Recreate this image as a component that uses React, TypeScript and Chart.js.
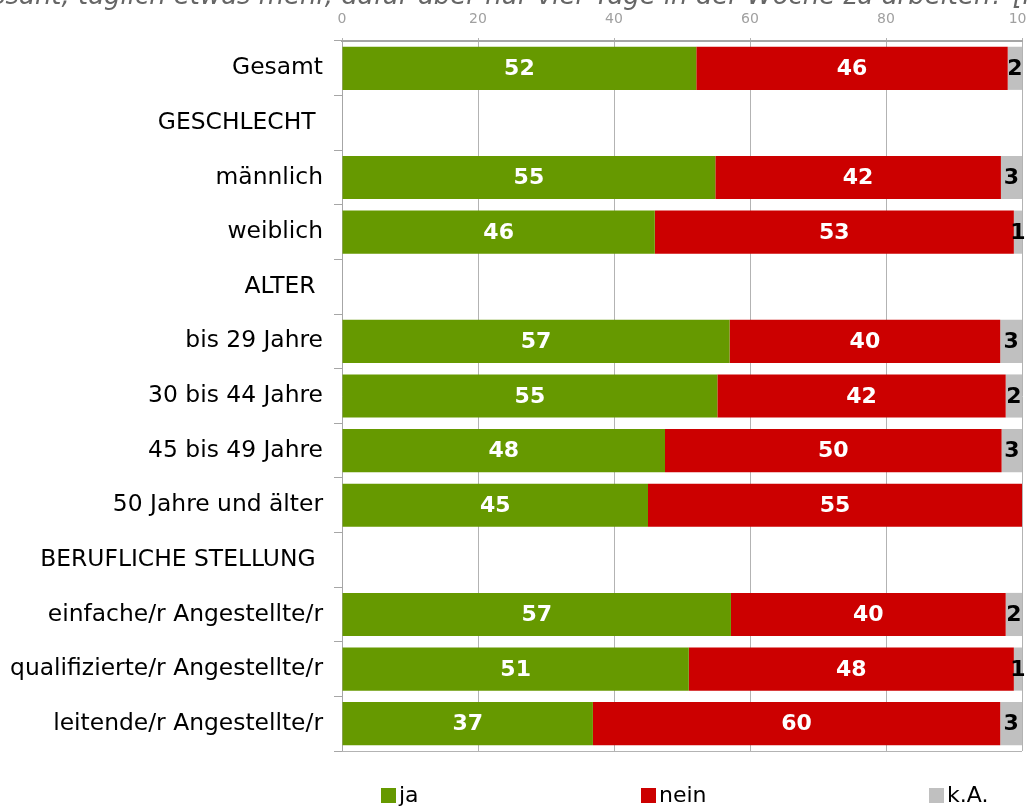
import React, { useEffect, useRef } from "react";
import { Chart, registerables } from "chart.js";

Chart.register(...registerables);

const categories = [
  "Gesamt",
  "GESCHLECHT ",
  "männlich",
  "weiblich",
  "ALTER ",
  "bis 29 Jahre",
  "30 bis 44 Jahre",
  "45 bis 49 Jahre",
  "50 Jahre und älter",
  "BERUFLICHE STELLUNG ",
  "einfache/r Angestellte/r",
  "qualifizierte/r Angestellte/r",
  "leitende/r Angestellte/r",
];

const jaValues = [52.1, null, 54.9, 46.0, null, 57.0, 55.2, 47.5, 45.0, null, 57.2, 51.0, 36.9];
const neinValues = [45.8, null, 42.0, 52.8, null, 39.8, 42.4, 49.5, 55.0, null, 40.4, 47.8, 59.9];
const kaValues = [2.1, null, 3.1, 1.2, null, 3.2, 2.4, 3.0, 0, null, 2.4, 1.2, 3.2];

const seriesLabels = ["ja", "nein", "k.A."];
const seriesColors = ["#669900", "#CC0000", "#C0C0C0"];
const labelColors = ["#FFFFFF", "#FFFFFF", "#000000"];

const xTicks = [0, 20, 40, 60, 80, 100];

const TITLE =
  "Ist es für Sie interessant, täglich etwas mehr, dafür aber nur vier Tage in der Woche zu arbeiten? [in %]";

const FONT = '"DejaVu Sans", Verdana, sans-serif';

const titlePlugin = {
  id: "cutTitle",
  afterDraw(chart: any) {
    const ctx = chart.ctx;
    ctx.save();
    ctx.font = `italic 20px ${FONT}`;
    const iA = TITLE.indexOf("täglich");
    const iB = TITLE.indexOf("[");
    const wA = ctx.measureText(TITLE.slice(0, iA)).width;
    const wB = ctx.measureText(TITLE.slice(0, iB)).width;
    const startX = 78;
    const endX = 1013;
    const size = (20 * (endX - startX)) / (wB - wA);
    ctx.font = `italic ${size}px ${FONT}`;
    const wA2 = ctx.measureText(TITLE.slice(0, iA)).width;
    ctx.fillStyle = "#666666";
    ctx.textAlign = "left";
    ctx.textBaseline = "alphabetic";
    ctx.fillText(TITLE, startX - wA2, 4);
    ctx.restore();
  },
};

const framePlugin = {
  id: "frameBottom",
  beforeDatasetsDraw(chart: any) {
    const { ctx, chartArea } = chart;
    ctx.save();
    ctx.strokeStyle = "#b3b3b3";
    ctx.lineWidth = 1;
    ctx.beginPath();
    ctx.moveTo(chartArea.left, Math.round(chartArea.bottom) + 0.5);
    ctx.lineTo(chartArea.right, Math.round(chartArea.bottom) + 0.5);
    ctx.stroke();
    ctx.restore();
  },
};

const valueLabelPlugin = {
  id: "valueLabels",
  afterDatasetsDraw(chart: any) {
    const ctx = chart.ctx;
    ctx.save();
    ctx.font = `bold 22px ${FONT}`;
    ctx.textAlign = "center";
    ctx.textBaseline = "middle";
    chart.data.datasets.forEach((ds: any, di: number) => {
      const meta = chart.getDatasetMeta(di);
      meta.data.forEach((el: any, i: number) => {
        const v = ds.data[i];
        if (v == null) return;
        const r = Math.round(v);
        if (r <= 0) return;
        const cx = (el.x + el.base) / 2;
        ctx.fillStyle = labelColors[di];
        ctx.fillText(String(r), cx, el.y + 1);
      });
    });
    ctx.restore();
  },
};

const legendPlugin = {
  id: "spreadLegend",
  afterDraw(chart: any, _args: any, opts: any) {
    const ctx = chart.ctx;
    const xs: number[] = opts.xs;
    ctx.save();
    ctx.font = `22px ${FONT}`;
    ctx.textBaseline = "middle";
    ctx.textAlign = "left";
    chart.data.datasets.forEach((ds: any, di: number) => {
      const x = xs[di];
      ctx.fillStyle = ds.backgroundColor;
      ctx.fillRect(x, opts.y - 8, 15, 15);
      ctx.fillStyle = "#000000";
      ctx.fillText(ds.label, x + 18, opts.y);
    });
    ctx.restore();
  },
};

export default function App() {
  const ref = useRef<HTMLCanvasElement | null>(null);

  useEffect(() => {
    if (!ref.current) return;
    const chart = new Chart(ref.current, {
      type: "bar",
      data: {
        labels: categories,
        datasets: [jaValues, neinValues, kaValues].map((d, i) => ({
          label: seriesLabels[i],
          data: d,
          backgroundColor: seriesColors[i],
          borderWidth: 0,
          categoryPercentage: 1,
          barPercentage: 0.79,
        })),
      },
      options: {
        indexAxis: "y",
        responsive: false,
        animation: false,
        devicePixelRatio: 1,
        layout: { padding: { left: 0, right: 38, top: 0, bottom: 56 } },
        plugins: {
          legend: { display: false },
          tooltip: { enabled: false },
          title: { display: false },
          spreadLegend: { xs: [381, 641, 929], y: 796 },
        } as any,
        scales: {
          x: {
            position: "top",
            stacked: true,
            min: 0,
            max: 100,
            afterBuildTicks: (scale: any) => {
              scale.ticks = xTicks.map((v) => ({ value: v }));
            },
            afterFit: (scale: any) => {
              scale.height = 41;
            },
            ticks: {
              font: { family: FONT, size: 14 },
              color: "#a0a0a0",
              padding: 10,
            },
            grid: { color: "#b3b3b3", drawTicks: true, tickLength: 3, lineWidth: 1 },
            border: { color: "#a6a6a6", width: 2 },
          },
          y: {
            stacked: true,
            afterFit: (scale: any) => {
              scale.width = 342;
            },
            ticks: {
              font: { family: FONT, size: 23.4 },
              color: "#000000",
              padding: 11,
              autoSkip: false,
            },
            grid: {
              offset: true,
              drawOnChartArea: false,
              drawTicks: true,
              tickLength: 8,
              color: "#a6a6a6",
            },
            border: { color: "#a6a6a6", width: 1 },
          },
        },
      } as any,
      plugins: [titlePlugin, framePlugin, valueLabelPlugin, legendPlugin],
    });
    return () => chart.destroy();
  }, []);

  return (
    <div
      style={{
        position: "fixed",
        left: 0,
        top: 0,
        width: 1027,
        height: 807,
        overflow: "hidden",
        background: "#ffffff",
      }}
    >
      <canvas ref={ref} width={1060} height={807} style={{ display: "block", width: 1060, height: 807 }} />
    </div>
  );
}
